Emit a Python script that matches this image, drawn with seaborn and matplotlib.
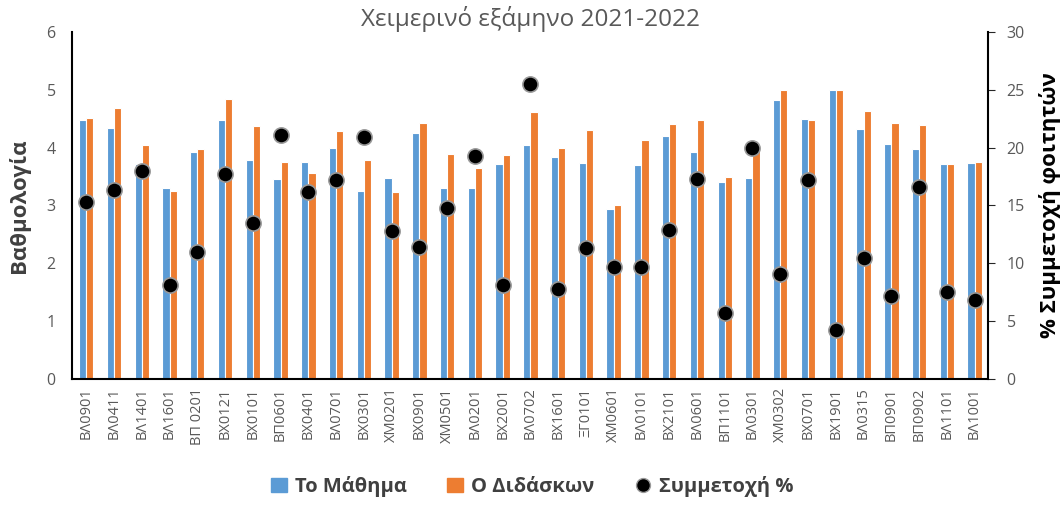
import numpy as np
import pandas as pd
import seaborn as sns
import matplotlib.pyplot as plt
from matplotlib.lines import Line2D
from matplotlib.patches import Patch

# course codes (x axis)
codes = ['ΒΛ0901', 'ΒΛ0411', 'ΒΛ1401', 'ΒΛ1601', 'ΒΠ 0201', 'ΒΧ0121', 'ΒΧ0101',
         'ΒΠ0601', 'ΒΧ0401', 'ΒΛ0701', 'ΒΧ0301', 'ΧΜ0201', 'ΒΧ0901', 'ΧΜ0501',
         'ΒΛ0201', 'ΒΧ2001', 'ΒΛ0702', 'ΒΧ1601', 'ΞΓ0101', 'ΧΜ0601', 'ΒΛ0101',
         'ΒΧ2101', 'ΒΛ0601', 'ΒΠ1101', 'ΒΛ0301', 'ΧΜ0302', 'ΒΧ0701', 'ΒΧ1901',
         'ΒΛ0315', 'ΒΠ0901', 'ΒΠ0902', 'ΒΛ1101', 'ΒΛ1001']

# grade for the course
course = [4.47, 4.34, 3.71, 3.30, 3.93, 4.47, 3.78, 3.46, 3.76, 4.00, 3.25,
          3.48, 4.25, 3.30, 3.30, 3.72, 4.04, 3.83, 3.74, 2.94, 3.70, 4.20,
          3.92, 3.41, 3.48, 4.82, 4.49, 5.00, 4.32, 4.07, 3.97, 3.72, 3.74]

# grade for the teacher
teacher = [4.52, 4.69, 4.05, 3.25, 3.97, 4.84, 4.37, 3.76, 3.57, 4.28, 3.78,
           3.23, 4.43, 3.89, 3.65, 3.87, 4.62, 3.99, 4.30, 3.01, 4.14, 4.41,
           4.48, 3.50, 3.95, 5.00, 4.48, 5.00, 4.63, 4.43, 4.40, 3.71, 3.76]

# student participation %
participation = [15.3, 16.3, 18.0, 8.1, 11.0, 17.7, 13.5, 21.1, 16.2, 17.2, 20.9,
                 12.8, 11.4, 14.8, 19.3, 8.1, 25.5, 7.8, 11.3, 9.7, 9.7, 12.9,
                 17.3, 5.7, 20.0, 9.1, 17.2, 4.2, 10.5, 7.2, 16.6, 7.5, 6.8]

series_names = ['Το Μάθημα', 'Ο Διδάσκων']
blue = '#5B9BD5'
orange = '#ED7D31'

sns.set_style('white')
plt.rcParams['font.family'] = ['Open Sans', 'DejaVu Sans']

df = pd.DataFrame({'code': codes * 2,
                   'score': course + teacher,
                   'series': [series_names[0]] * len(codes) + [series_names[1]] * len(codes)})

fig, ax = plt.subplots(figsize=(10.64, 5.08), dpi=100)
fig.subplots_adjust(left=0.068, right=0.929, top=0.937, bottom=0.254)

sns.barplot(data=df, x='code', y='score', hue='series', order=codes,
            palette=[blue, orange], saturation=1, width=0.52, edgecolor='white',
            linewidth=0.8, legend=False, ax=ax)
ax.set_ylim(0, 6)
ax.set_xlim(-0.5, len(codes) - 0.5)
ax.set_yticks(range(0, 7))
ax.set_xlabel('')
ax.set_ylabel('Βαθμολογία', fontsize=16, fontweight='bold', color='#404040', labelpad=12)
ax.tick_params(axis='x', rotation=90, labelsize=10.5, labelcolor='#595959', length=0, pad=6)
ax.tick_params(axis='y', labelsize=11.5, labelcolor='#595959', length=0, pad=12)
ax.set_title('Χειμερινό εξάμηνο 2021-2022', fontsize=17.5, color='#595959', pad=3)

ax2 = ax.twinx()
sns.scatterplot(x=np.arange(len(codes)), y=participation, color='black', s=120,
                edgecolor='#999999', linewidth=1.2, zorder=5, ax=ax2)
ax2.set_ylim(0, 30)
ax2.set_yticks(range(0, 31, 5))
ax2.set_ylabel('% Συμμετοχή φοιτητών', fontsize=16, fontweight='bold', color='black',
               labelpad=10)
ax2.tick_params(axis='y', labelsize=11.5, labelcolor='#595959', length=5,
                direction='out', pad=8)

for a in (ax, ax2):
    for side in ('left', 'right', 'bottom'):
        a.spines[side].set_color('black')
        a.spines[side].set_linewidth(1.5)
    a.spines['top'].set_visible(False)
ax.spines['right'].set_visible(False)
ax2.spines['left'].set_visible(False)
ax2.spines['bottom'].set_visible(False)

handles = [Patch(color=blue), Patch(color=orange),
           Line2D([], [], marker='o', ls='none', color='black', markersize=10,
                  markeredgecolor='#999999')]
leg = fig.legend(handles, ['Το Μάθημα', 'Ο Διδάσκων', 'Συμμετοχή %'], loc='lower center',
                 ncol=3, frameon=False, bbox_to_anchor=(0.5, -0.015),
                 handlelength=0.8, handletextpad=0.4, columnspacing=2.0,
                 prop={'size': 14.5, 'weight': 'bold'})
for t in leg.get_texts():
    t.set_color('#404040')

fig.savefig('out.png', dpi=100)
